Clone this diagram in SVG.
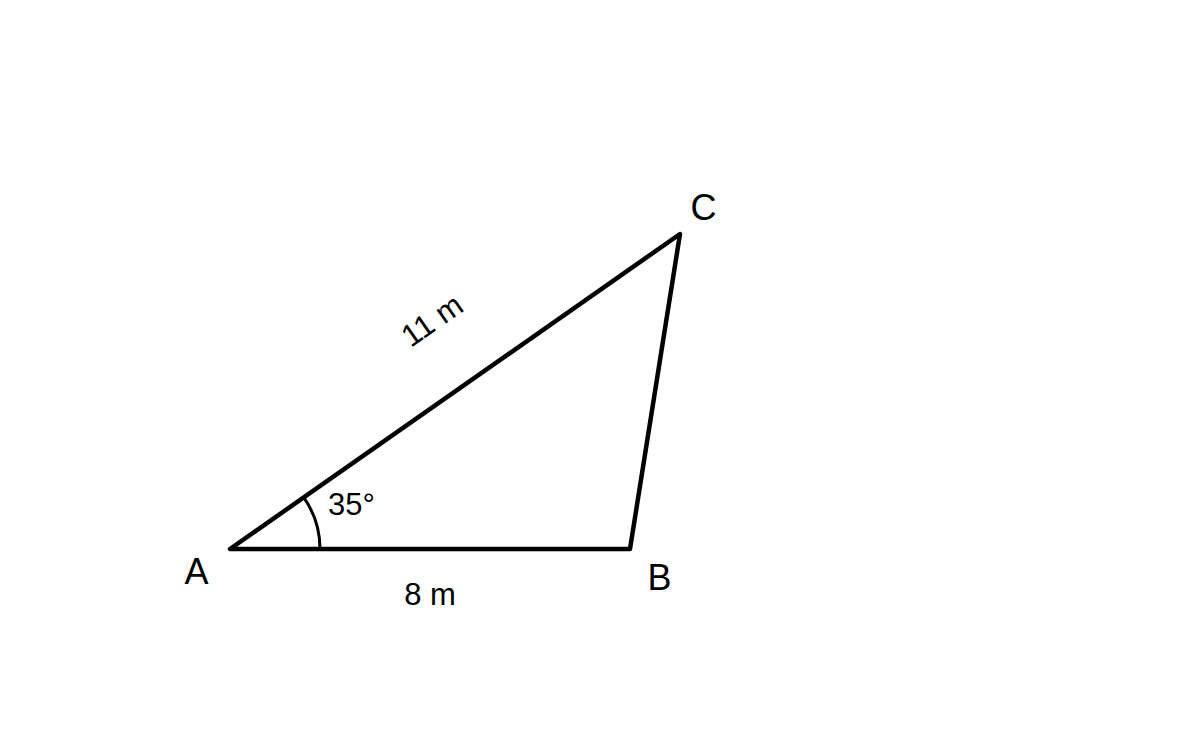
<svg xmlns="http://www.w3.org/2000/svg" width="1200" height="750" viewBox="0 0 1200 750">
<style>
text{font-family:"Liberation Sans",Arial,sans-serif;fill:#000}
.v{font-size:36px}
.l{font-size:31px}
</style>
<rect width="1200" height="750" fill="#fff"/>
<g id="connectors" fill="none" stroke="#000">
<polygon points="230,549 630,549 680,234" stroke-width="4.5" stroke-linejoin="round"/>
<path d="M320,549 A90,90 0 0 0 303.7,497.4" stroke-width="3"/>
</g>
<g id="A"><text class="v" x="196.5" y="584" text-anchor="middle">A</text></g>
<g id="B"><text class="v" x="659.5" y="590" text-anchor="middle">B</text></g>
<g id="C"><text class="v" x="703.5" y="220" text-anchor="middle">C</text></g>
<g id="labels">
<text class="l" x="430" y="605" text-anchor="middle">8 m</text>
<text class="l" x="0" y="0" text-anchor="middle" transform="translate(438,329) rotate(-35)">11 m</text>
<text class="l" x="328" y="515">35°</text>
</g>
</svg>
